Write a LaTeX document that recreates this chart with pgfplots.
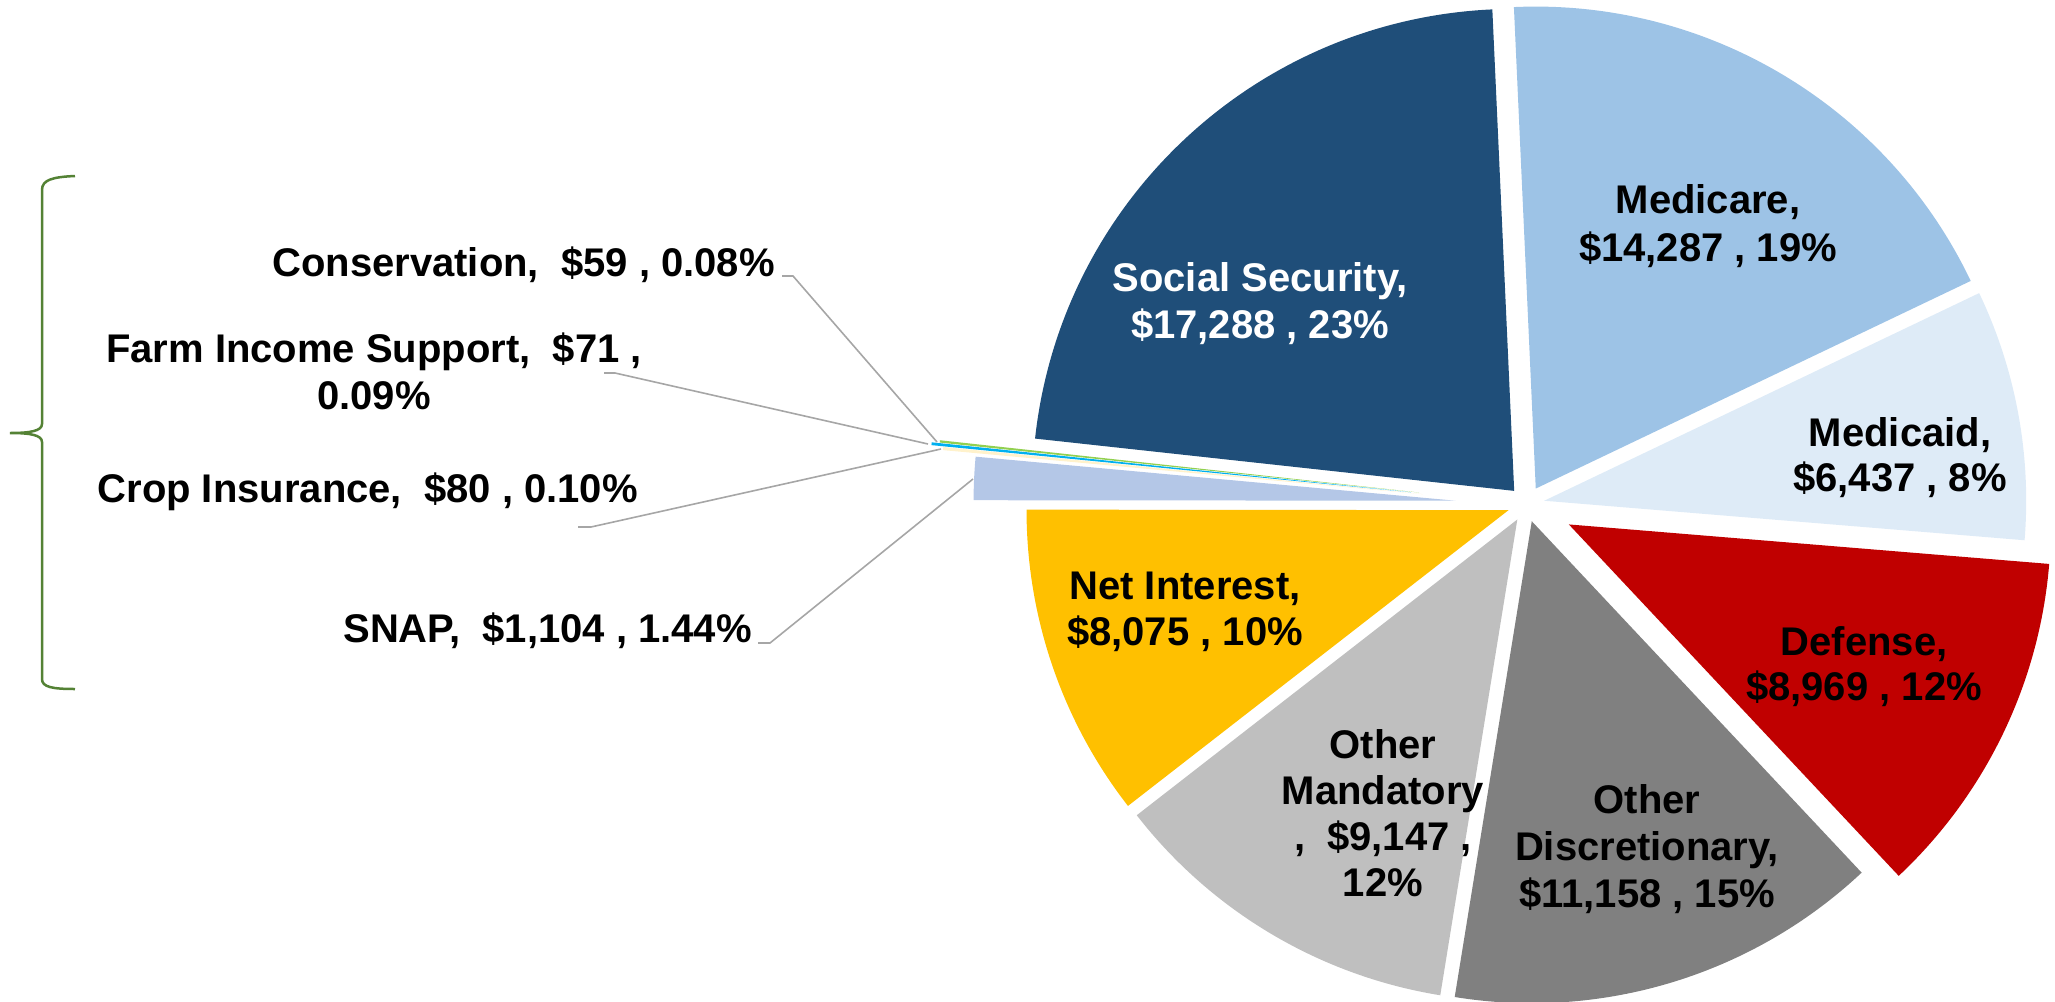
\documentclass[border=0pt]{standalone}
\usepackage{fontspec}
\setmainfont{Liberation Sans}
\usepackage{pgfplots}
\usepackage{pgfplotstable}
\pgfplotsset{compat=1.18}

\definecolor{slicec0}{HTML}{9DC3E6}
\definecolor{slicec1}{HTML}{DEEBF7}
\definecolor{slicec2}{HTML}{C00000}
\definecolor{slicec3}{HTML}{808080}
\definecolor{slicec4}{HTML}{BFBFBF}
\definecolor{slicec5}{HTML}{FFC000}
\definecolor{slicec6}{HTML}{B4C7E7}
\definecolor{slicec7}{HTML}{FFF2CC}
\definecolor{slicec8}{HTML}{00B0F0}
\definecolor{slicec9}{HTML}{92D050}
\definecolor{slicec10}{HTML}{1F4E79}
\definecolor{leadergray}{HTML}{A6A6A6}
\definecolor{bracegreen}{HTML}{548235}

\tikzset{
  lbl/.style={anchor=base, inner sep=0pt, font=\fontsize{40}{46}\selectfont\bfseries},
  leader/.style={draw=leadergray, line width=1.6pt},
}

% slices in clockwise order from the top; explode = offset of the slice (px)
\pgfplotstableread[col sep=comma]{
name,value,explode
Medicare,14287,18
Medicaid,6437,18
Defense,8969,47
Other Discretionary,11158,18
Other Mandatory,9147,18
Net Interest,8075,19
SNAP,1104,71
Crop Insurance,80,104
Farm Income Support,71,116
Conservation,59,108
Social Security,17288,18
}\piedata

\begin{document}
\xdef\pietotal{0}%
\foreach \i in {0,...,10}{%
  \pgfplotstablegetelem{\i}{value}\of\piedata
  \xdef\pietotal{\fpeval{\pietotal+\pgfplotsretval}}%
}%
\xdef\cumangle{92.6}%
\foreach \i in {0,...,10}{%
  \pgfplotstablegetelem{\i}{value}\of\piedata \let\myv\pgfplotsretval
  \pgfplotstablegetelem{\i}{explode}\of\piedata \let\myd\pgfplotsretval
  \edef\aA{\cumangle}%
  \edef\aB{\fpeval{round(\cumangle-360*\myv/\pietotal,4)}}%
  \edef\aM{\fpeval{(\aA+\aB)/2}}%
  \expandafter\xdef\csname pA\i\endcsname{\aA}%
  \expandafter\xdef\csname pB\i\endcsname{\aB}%
  \expandafter\xdef\csname px\i\endcsname{\fpeval{round(1526.5+\myd*cosd(\aM),3)}}%
  \expandafter\xdef\csname py\i\endcsname{\fpeval{round(504-\myd*sind(\aM),3)}}%
  \xdef\cumangle{\aB}%
}%
\begin{tikzpicture}
\begin{axis}[
  width=2055pt, height=1001pt, scale only axis,
  xmin=0, xmax=2055, ymin=0, ymax=1001, y dir=reverse,
  hide axis, clip=false,
]
\pgfplotsinvokeforeach{0,...,10}{
  \fill[slicec#1] (axis cs:\csname px#1\endcsname,\csname py#1\endcsname)
     -- ++(\csname pA#1\endcsname:482pt)
     arc[start angle=\csname pA#1\endcsname, end angle=\csname pB#1\endcsname, radius=482pt]
     -- cycle;
}
% labels inside the pie
\node[lbl, text=white] at (axis cs:1260,291) {Social Security,};
\node[lbl, text=white] at (axis cs:1260,338) {\$17,288 , 23\%};
\node[lbl] at (axis cs:1708,213) {Medicare,};
\node[lbl] at (axis cs:1708,261) {\$14,287 , 19\%};
\node[lbl] at (axis cs:1900,446) {Medicaid,};
\node[lbl] at (axis cs:1900,491) {\$6,437 , 8\%};
\node[lbl] at (axis cs:1864,655) {Defense,};
\node[lbl] at (axis cs:1864,700) {\$8,969 , 12\%};
\node[lbl] at (axis cs:1647,813) {Other};
\node[lbl] at (axis cs:1647,860) {Discretionary,};
\node[lbl] at (axis cs:1647,907) {\$11,158 , 15\%};
\node[lbl] at (axis cs:1383,758) {Other};
\node[lbl] at (axis cs:1383,804) {Mandatory};
\node[lbl] at (axis cs:1383,850) {,\ \ \$9,147 ,};
\node[lbl] at (axis cs:1383,896) {12\%};
\node[lbl] at (axis cs:1185,599) {Net Interest,};
\node[lbl] at (axis cs:1185,645) {\$8,075 , 10\%};
% outside labels
\node[lbl, anchor=base east] at (axis cs:775,276) {Conservation,\ \ \$59 , 0.08\%};
\node[lbl] at (axis cs:374,362) {Farm Income Support,\ \ \$71 ,};
\node[lbl] at (axis cs:374,409) {0.09\%};
\node[lbl, anchor=base east] at (axis cs:638,502) {Crop Insurance,\ \ \$80 , 0.10\%};
\node[lbl, anchor=base east] at (axis cs:752,642) {SNAP,\ \ \$1,104 , 1.44\%};
% leader lines
\draw[leader] (axis cs:782,276) -- (axis cs:793,276) -- (axis cs:937,442);
\draw[leader] (axis cs:604,373) -- (axis cs:615,373) -- (axis cs:928,444);
\draw[leader] (axis cs:578,527) -- (axis cs:591,527) -- (axis cs:941,449);
\draw[leader] (axis cs:758,643) -- (axis cs:770,643) -- (axis cs:973,479);
% brace
\draw[bracegreen, line width=2.5pt]
  (axis cs:75,176) .. controls (axis cs:52,177) and (axis cs:42,180) .. (axis cs:42,190)
  -- (axis cs:42,424) .. controls (axis cs:42,431) and (axis cs:30,433) .. (axis cs:10,433)
  .. controls (axis cs:30,433) and (axis cs:42,435) .. (axis cs:42,442)
  -- (axis cs:42,679) .. controls (axis cs:42,687) and (axis cs:52,689) .. (axis cs:75,689);
\end{axis}
\pgfresetboundingbox
\useasboundingbox (current axis.south west) rectangle (current axis.north east);
\end{tikzpicture}
\end{document}
